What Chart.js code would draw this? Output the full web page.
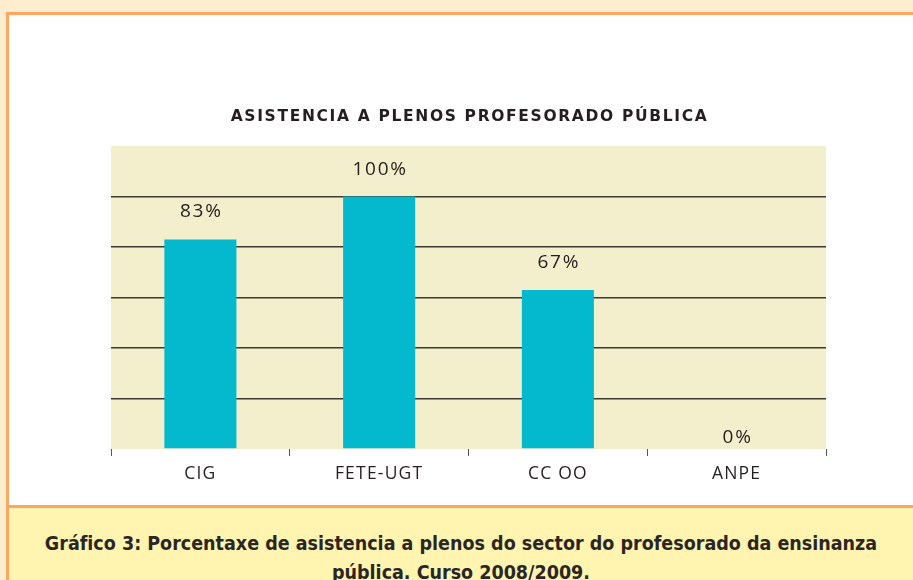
<!DOCTYPE html>
<html lang="gl">
<head>
  <meta charset="UTF-8" />
  <title>Asistencia a plenos</title>
  <script src="https://cdn.jsdelivr.net/npm/chart.js@4.4.0/dist/chart.umd.min.js"></script>
  <style>
    body {
      margin: 0;
      width: 913px;
      height: 580px;
      overflow: hidden;
      background-color: #feedcf;
      position: relative;
      font-family: "Open Sans", sans-serif;
    }
    .frame {
      position: absolute;
      left: 6px;
      top: 12px;
      width: 960px;
      height: 640px;
      border: 3px solid #fca862;
      background: white;
    }
    .chartbox {
      position: absolute;
      left: 0;
      top: 0;
      width: 904px;
      height: 490px;
    }
    .caption {
      position: absolute;
      left: 0;
      top: 490px;
      width: 960px;
      height: 200px;
      border-top: 3px solid #fca862;
      background: #fff5b0;
    }
    .caption p {
      margin: 0;
      position: absolute;
      left: 0;
      width: 904px;
      top: 21px;
      text-align: center;
      font-family: "DejaVu Sans Condensed", "Liberation Sans Narrow", sans-serif;
      font-stretch: condensed;
      font-weight: 600;
      font-size: 19.5px;
      line-height: 29px;
      color: #2a2626;
    }
  </style>
</head>
<body>
  <div class="frame">
    <div class="chartbox"><canvas id="chart" width="904" height="490"></canvas></div>
    <div class="caption">
      <p>Gráfico 3: Porcentaxe de asistencia a plenos do sector do profesorado da ensinanza<br>pública. Curso 2008/2009.</p>
    </div>
  </div>

  <script>
    // datos
    const categories = ['CIG', 'FETE-UGT', 'CC OO', 'ANPE'];
    const values = [83, 100, 63, 0];           // altura das barras
    const valueLabels = ['83%', '100%', '67%', '0%'];
    const yTicks = [0, 20, 40, 60, 80, 100, 120];
    const titleText = 'ASISTENCIA A PLENOS PROFESORADO PÚBLICA';

    // espaciado de letras para os textos do eixo
    const spacing = {
      id: 'spacing',
      beforeLayout(chart) { chart.ctx.letterSpacing = '1.2px'; },
      beforeDraw(chart) { chart.ctx.letterSpacing = '1.2px'; }
    };

    const plotBg = {
      id: 'plotBg',
      beforeDraw(chart) {
        const a = chart.chartArea;
        const ctx = chart.ctx;
        ctx.save();
        ctx.fillStyle = '#f3eecb';
        ctx.fillRect(a.left, a.top, a.right - a.left, a.bottom - a.top);
        ctx.restore();
      }
    };

    const titleDraw = {
      id: 'titleDraw',
      afterDraw(chart) {
        const a = chart.chartArea;
        const ctx = chart.ctx;
        ctx.save();
        ctx.font = 'bold 15.5px "DejaVu Sans", sans-serif';
        ctx.letterSpacing = '0px';
        const w = ctx.measureText(titleText).width;
        // ancho do título no orixinal: uns 476px
        ctx.letterSpacing = Math.max(0, (476 - w) / (titleText.length - 1)) + 'px';
        ctx.fillStyle = '#231f20';
        ctx.textAlign = 'center';
        ctx.textBaseline = 'middle';
        ctx.fillText(titleText, (a.left + a.right) / 2 + 1, 102);
        ctx.restore();
      }
    };

    const barLabels = {
      id: 'barLabels',
      afterDatasetsDraw(chart) {
        const ctx = chart.ctx;
        const meta = chart.getDatasetMeta(0);
        ctx.save();
        ctx.letterSpacing = '1.8px';
        ctx.font = '19px "Open Sans", sans-serif';
        ctx.fillStyle = '#231f20';
        ctx.textAlign = 'center';
        ctx.textBaseline = 'alphabetic';
        meta.data.forEach((bar, i) => {
          const off = values[i] === 0 ? 6 : 22;
          ctx.fillText(valueLabels[i], bar.x + 1, bar.y - off);
        });
        ctx.restore();
      }
    };

    new Chart(document.getElementById('chart'), {
      type: 'bar',
      data: {
        labels: categories,
        datasets: [{
          data: values,
          backgroundColor: '#04b9ce',
          categoryPercentage: 1,
          barPercentage: 0.403
        }]
      },
      options: {
        responsive: false,
        animation: false,
        layout: { padding: { left: 102, right: 87, top: 131, bottom: 12 } },
        plugins: {
          legend: { display: false },
          tooltip: { enabled: false },
          title: { display: false }
        },
        scales: {
          x: {
            border: { display: false },
            grid: {
              offset: true,
              drawOnChartArea: false,
              drawTicks: true,
              tickLength: 7,
              tickColor: '#555',
              tickWidth: 1
            },
            ticks: {
              color: '#231f20',
              font: { family: '"Open Sans", sans-serif', size: 17.5 },
              padding: 8
            }
          },
          y: {
            min: 0,
            max: 120,
            afterBuildTicks(axis) { axis.ticks = yTicks.map(v => ({ value: v })); },
            border: { display: false },
            ticks: { display: false },
            grid: {
              drawTicks: false,
              lineWidth: 1.5,
              color: c => (c.tick && (c.tick.value === 0 || c.tick.value === 120)) ? 'rgba(0,0,0,0)' : '#3d3a33'
            }
          }
        }
      },
      plugins: [spacing, plotBg, barLabels, titleDraw]
    });
  </script>
</body>
</html>
